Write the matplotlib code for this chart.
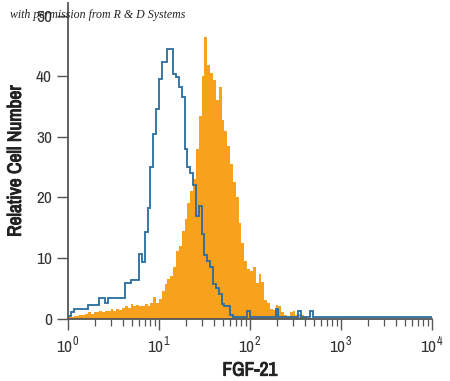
import numpy as np
import matplotlib
matplotlib.use("Agg")
import matplotlib.pyplot as plt
import matplotlib.patheffects as pe
from matplotlib import font_manager
from matplotlib.ticker import LogLocator, FixedLocator

# 128 log-spaced channels between 10^0 and 10^4
n_bins = 128
isotype_counts = [
    0.4, 1.0, 1.6, 1.6, 1.6, 1.6, 1.6, 2.3, 2.3, 2.3,
    2.3, 3.4, 3.4, 2.5, 3.4, 3.4, 3.4, 3.4, 3.4, 3.4,
    5.8, 5.8, 6.4, 6.4, 6.4, 10.6, 9.3, 14.2, 18.3, 25.0,
    30.4, 34.5, 39.5, 42.4, 42.4, 44.5, 44.5, 40.4, 39.9, 38.2,
    36.6, 28.0, 25.0, 24.0, 22.0, 17.0, 18.5, 14.0, 10.4, 9.5,
    8.5, 5.7, 5.0, 4.1, 2.4, 2.1, 2.1, 0.6, 0.25, 0.25,
    0.25, 0.25, 0.25, 1.3, 0.25, 0.25, 0.25, 0.25, 0.25, 0.25,
    0.25, 0.25, 0.25, 1.6, 0.25, 0.25, 0.25, 0.25, 0.25, 0.25,
    0.25, 1.3, 0.25, 0.25, 0.25, 1.3, 0.25, 0.25, 0.25, 0.25,
    0.25, 0.25, 0.25, 0.25, 0.25, 0.25, 0.25, 0.25, 0.25, 0.25,
    0.25, 0.25, 0.25, 0.25, 0.25, 0.25, 0.25, 0.25, 0.25, 0.25,
    0.25, 0.25, 0.25, 0.25, 0.25, 0.25, 0.25, 0.25, 0.25, 0.25,
    0.25, 0.25, 0.25, 0.25, 0.25, 0.25, 0.25, 0.25,
]
fgf21_counts = [
    0.3, 0.3, 0.4, 0.4, 0.5, 0.5, 0.8, 1.0, 0.8, 1.1,
    1.0, 1.3, 1.1, 1.2, 1.3, 1.5, 1.2, 1.6, 1.4, 1.7,
    2.1, 1.8, 2.4, 2.0, 2.3, 2.1, 2.0, 2.4, 2.1, 2.6,
    3.5, 2.6, 3.2, 4.5, 5.7, 6.5, 7.0, 8.5, 11.2, 12.0,
    14.5, 16.5, 19.0, 21.0, 23.0, 28.0, 33.5, 40.0, 46.5, 41.8,
    40.5, 39.3, 36.0, 38.2, 32.7, 31.0, 28.5, 25.5, 22.5, 20.0,
    15.7, 12.5, 9.5, 8.2, 7.9, 8.5, 5.8, 7.4, 6.0, 3.0,
    2.5, 1.5, 1.4, 2.2, 2.0, 1.0, 0.5, 0.3, 1.0, 1.2,
    0.6, 0.8, 0.5, 0.3, 0, 0, 0, 0, 0, 0,
    0, 0, 0, 0, 0, 0, 0, 0, 0, 0,
    0, 0, 0, 0, 0, 0, 0, 0, 0, 0,
    0, 0, 0, 0, 0, 0, 0, 0, 0, 0,
    0, 0, 0, 0, 0, 0, 0, 0,
]
y_ticks = [0, 10, 20, 30, 40, 50]
x_ticks = [1, 10, 100, 1000, 10000]
x_tick_labels = [r"$10^0$", r"$10^1$", r"$10^2$", r"$10^3$", r"$10^4$"]

ORANGE = "#f7a11c"
BLUE = "#2b6c9e"
AXIS = "#555555"

# look for a condensed face among the installed fonts
cond = [f.name for f in font_manager.fontManager.ttflist
        if "ondensed" in f.fname or "Narrow" in f.fname or "Cond" in f.fname]
narrow = sorted(set(cond))[:1] + ["Roboto", "DejaVu Sans"]

plt.rcParams["mathtext.fontset"] = "custom"
plt.rcParams["mathtext.rm"] = narrow[0]

edges = np.logspace(0, 4, n_bins + 1)

fig = plt.figure(figsize=(4.5, 3.81), dpi=100)
ax = fig.add_axes([0.151, 0.164, 0.809, 0.827])

ax.stairs(fgf21_counts, edges, fill=True, color=ORANGE, lw=0)
ax.stairs(isotype_counts, edges, color=BLUE, lw=1.3, baseline=None)

ax.set_xscale("log")
ax.set_xlim(1, 10000)
ax.set_ylim(0, 52)

ax.xaxis.set_major_locator(FixedLocator(x_ticks))
ax.xaxis.set_minor_locator(LogLocator(base=10, subs=np.arange(2, 10)))
ax.set_xticks(x_ticks)
ax.set_xticklabels(x_tick_labels)
ax.set_yticks(y_ticks)

for s in ["top", "right"]:
    ax.spines[s].set_visible(False)
for s in ["left", "bottom"]:
    ax.spines[s].set_color(AXIS)
    ax.spines[s].set_linewidth(1.3)

ax.tick_params(axis="both", which="major", colors=AXIS, width=1.0, length=8,
               labelcolor="#333333", labelsize=12.5)
ax.tick_params(axis="x", which="minor", colors=AXIS, width=0.9, length=5)
ax.tick_params(axis="x", pad=4)
for lab in ax.get_yticklabels() + ax.get_xticklabels():
    lab.set_family(narrow)
    lab.set_stretch("condensed")

# the condensed face has no bold, so thicken the strokes a little
bold = [pe.withStroke(linewidth=0.7, foreground="#222222")]
ax.set_xlabel("FGF-21", family=narrow, fontsize=14, fontweight="bold",
              stretch="condensed", color="#222222", labelpad=3, path_effects=bold)
ax.set_ylabel("Relative Cell Number", family=narrow, fontsize=14,
              fontweight="bold", stretch="condensed", color="#222222",
              labelpad=8, path_effects=bold)

fig.text(0.022, 0.953, "with permission from R & D Systems", fontsize=8.6,
         style="italic", family="Liberation Serif", color="#222222")

fig.savefig("out.png", dpi=100)
